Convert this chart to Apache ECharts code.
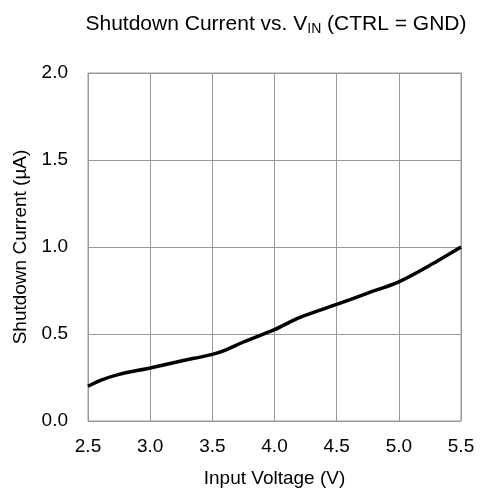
<!DOCTYPE html>
<html>
<head>
<meta charset="utf-8">
<script src="https://cdn.jsdelivr.net/npm/echarts@6/dist/echarts.min.js"></script>
<style>
  html, body { margin: 0; padding: 0; background: #fff; }
  #chart { width: 493px; height: 490px; }
</style>
</head>
<body>
<div id="chart"></div>
<script>
// input voltage (V) and shutdown current (µA)
var vin = [2.5, 2.6, 2.75, 3.0, 3.25, 3.5, 3.6, 3.75, 4.0, 4.2, 4.5, 4.75, 5.0, 5.25, 5.5]
var current = [0.20, 0.234, 0.268, 0.305, 0.345, 0.383, 0.406, 0.454, 0.525, 0.594, 0.67, 0.735, 0.80, 0.895, 1.0]

var chart = echarts.init(document.getElementById('chart'))
var font = 'Liberation Sans, Arial, sans-serif'

chart.setOption({
  animation: false,
  title: {
    text: '{a|Shutdown Current vs. V}{s|IN}{a| (CTRL = GND)}',
    left: 271,
    top: 7,
    textAlign: 'center',
    textStyle: {
      rich: {
        a: { fontFamily: font, fontSize: 21, color: '#000', fontWeight: 'normal' },
        s: { fontFamily: font, fontSize: 14, color: '#000', fontWeight: 'normal', verticalAlign: 'bottom', padding: [10, 0, 0, 0] }
      }
    }
  },
  grid: {
    left: 88,
    right: 32,
    top: 73,
    bottom: 69,
    outerBoundsMode: 'none',
    show: true,
    borderColor: '#999',
    borderWidth: 1
  },
  xAxis: {
    type: 'value',
    min: 2.5,
    max: 5.5,
    interval: 0.5,
    name: 'Input Voltage (V)',
    nameLocation: 'middle',
    nameGap: 48,
    nameTextStyle: { fontFamily: font, fontSize: 19, color: '#000' },
    axisLine: { show: false },
    axisTick: { show: false },
    axisLabel: {
      fontFamily: font, fontSize: 19, color: '#000', margin: 16,
      formatter: function (v) { return v.toFixed(1) }
    },
    splitLine: { lineStyle: { color: '#999', width: 1 } }
  },
  yAxis: {
    type: 'value',
    min: 0,
    max: 2,
    interval: 0.5,
    name: 'Shutdown Current (µA)',
    nameLocation: 'middle',
    nameGap: 56,
    nameTextStyle: { fontFamily: font, fontSize: 19, color: '#000' },
    axisLine: { show: false },
    axisTick: { show: false },
    axisLabel: {
      fontFamily: font, fontSize: 19, color: '#000', margin: 20,
      formatter: function (v) { return v.toFixed(1) }
    },
    splitLine: { lineStyle: { color: '#999', width: 1 } }
  },
  series: [{
    type: 'line',
    data: vin.map(function (v, i) { return [v, current[i]] }),
    smooth: 0.3,
    showSymbol: false,
    lineStyle: { color: '#000', width: 3.5 }
  }]
})
</script>
</body>
</html>
